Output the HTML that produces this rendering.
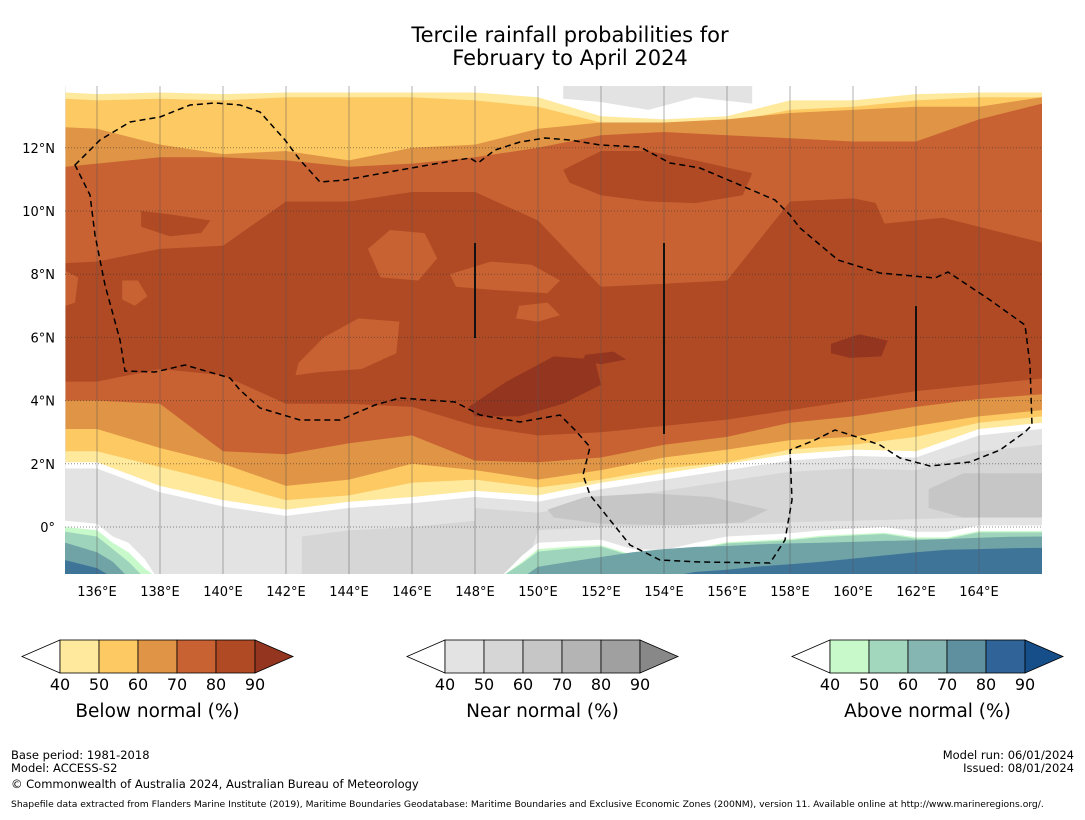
<!DOCTYPE html>
<html><head><meta charset="utf-8"><title>Tercile rainfall probabilities</title>
<style>
html,body{margin:0;padding:0;background:#fff;}
body{width:1085px;height:816px;position:relative;overflow:hidden;font-family:"DejaVu Sans","Liberation Sans",sans-serif;}
svg text{font-family:"DejaVu Sans","Liberation Sans",sans-serif;}
</style></head>
<body>
<svg id="chart" width="1085" height="816" viewBox="0 0 1085 816" xmlns="http://www.w3.org/2000/svg">
<defs><clipPath id="mapclip"><rect x="65" y="86" width="977" height="488"/></clipPath></defs>
<text x="570" y="42" text-anchor="middle" font-size="21" fill="#000">Tercile rainfall probabilities for</text>
<text x="570" y="65" text-anchor="middle" font-size="21" fill="#000">February to April 2024</text>
<g id="map" clip-path="url(#mapclip)"></g>
<g id="overlay" clip-path="url(#mapclip)"></g>
<g id="axes"></g>
<g id="legends"></g>
<text x="11" y="759" font-size="11.5">Base period: 1981-2018</text>
<text x="11" y="772" font-size="11.5">Model: ACCESS-S2</text>
<text x="11" y="788" font-size="11.5">© Commonwealth of Australia 2024, Australian Bureau of Meteorology</text>
<text x="1074" y="759" font-size="11.5" text-anchor="end">Model run: 06/01/2024</text>
<text x="1074" y="772" font-size="11.5" text-anchor="end">Issued: 08/01/2024</text>
<text x="11" y="807" font-size="9.2">Shapefile data extracted from Flanders Marine Institute (2019), Maritime Boundaries Geodatabase: Maritime Boundaries and Exclusive Economic Zones (200NM), version 11. Available online at http://www.marineregions.org/.</text>
</svg>
<script>
// ---- data (lon/lat space) ----
const LONS = [135,136,138,140,142,144,146,148,150,152,154,156,158,160,162,164,166];
const lonTicks = [136,138,140,142,144,146,148,150,152,154,156,158,160,162,164];
const latTicks = [0,2,4,6,8,10,12];
const U50 = [13.75,13.7,13.75,13.7,13.75,13.75,13.75,13.75,13.6,13.0,12.9,13.0,13.5,13.5,13.7,13.75,13.75];
const U60 = [13.55,13.5,13.55,13.5,13.6,13.6,13.6,13.5,13.3,12.8,12.7,12.8,13.2,13.3,13.5,13.6,13.6];
const U70 = [12.65,12.6,12.1,11.8,11.9,11.6,12.0,12.1,12.6,12.8,12.8,12.9,13.1,13.2,13.3,13.3,13.6];
const U80 = [11.4,11.5,11.7,11.7,11.6,11.4,11.5,11.7,12.0,12.4,12.5,12.4,12.3,12.2,12.2,12.9,13.4];
const U90 = [8.35,8.4,8.8,8.9,10.3,10.3,10.6,10.6,9.7,7.6,7.7,7.8,10.3,10.4,10.0,9.5,9.0];
const D90 = [4.6,4.6,5.0,4.8,3.9,3.9,3.8,3.2,2.9,3.0,3.2,3.4,3.7,4.0,4.3,4.5,4.7];
const D80 = [4.0,4.0,3.9,2.4,2.3,2.65,2.9,2.1,2.05,2.2,2.6,2.85,3.3,3.5,3.8,4.05,4.2];
const D70 = [3.1,3.1,2.5,2.0,1.3,1.5,2.0,1.8,1.5,1.8,2.2,2.45,2.75,2.85,3.2,3.5,3.7];
const D60 = [2.4,2.4,1.9,1.4,0.85,1.0,1.4,1.5,1.25,1.5,1.85,2.05,2.45,2.6,2.85,3.3,3.5];
const D50 = [2.05,2.05,1.3,0.85,0.55,0.8,0.95,1.15,1.0,1.4,1.7,2.0,2.3,2.45,2.4,3.1,3.3];
const D40 = [1.85,1.85,1.1,0.65,0.35,0.6,0.75,0.95,0.8,1.2,1.5,1.8,2.1,2.25,2.2,2.9,3.1];
const isl80ALon=[144.6,145.3,146.4,146.8,146.2,145.0], isl80ALat=[8.8,9.4,9.3,8.5,7.8,7.9];
const isl80BLon=[147.2,148.5,149.8,150.7,150.3,148.6,147.4], isl80BLat=[8.0,8.4,8.3,7.8,7.4,7.5,7.6];
const isl80CLon=[149.4,150.3,150.7,150.0,149.3], isl80CLat=[7.0,7.1,6.7,6.5,6.6];
const isl80DLon=[142.4,143.2,144.3,145.6,145.5,144.4,143.0,142.3], isl80DLat=[5.2,6.0,6.6,6.5,5.5,5.0,4.9,4.8];
const isl80ELon=[136.8,137.3,137.6,137.2,136.8], isl80ELat=[7.8,7.8,7.3,7.0,7.2];
const isl80FLon=[135,135.4,135.3,135], isl80FLat=[8.1,7.9,7.1,7.0];
const isl80GLon=[160.7,162.5,164.5,166,166,164.8,163.0,161.0], isl80GLat=[10.3,10.5,10.2,10.3,9.0,9.5,9.8,9.6];
const blob90ALon=[137.4,138.3,139.6,139.3,138.3,137.4], blob90ALat=[10.0,9.9,9.7,9.3,9.2,9.5];
const blob90BLon=[150.8,152.0,153.5,155.0,156.8,156.5,155.0,153.5,152.0,151.0], blob90BLat=[11.3,11.9,11.9,11.6,11.2,10.5,10.25,10.3,10.5,10.9];
const blob100ALon=[147.8,149.0,150.5,151.8,152.0,150.8,149.4,148.0], blob100ALat=[3.8,4.6,5.4,5.3,4.5,3.9,3.5,3.5];
const blob100BLon=[159.3,160.2,161.1,160.9,159.9,159.3], blob100BLat=[5.8,6.1,5.9,5.4,5.35,5.5];
const blob100CLon=[151.5,152.4,152.8,152.0,151.4], blob100CLat=[5.45,5.55,5.3,5.15,5.25];
const near60Lon=[148,150,152,154,156,158,160,162,164,166,166,164,160,156,152,150,149.5,148,146,144,142.5,142.5,144,146,148];
const near60Lat=[0.6,0.45,0.85,1.15,1.45,1.75,1.85,1.8,2.4,2.6,0.3,0.3,0.2,0.1,0.0,-0.1,-1.6,-1.6,-1.6,-1.6,-1.6,-0.3,-0.1,0.0,0.2];
const near70ALon=[150.3,151.5,153.5,155.5,157.3,156.5,154.5,152.0,150.5], near70ALat=[0.55,0.95,1.07,0.95,0.55,0.15,0.05,0.1,0.3];
const near70BLon=[162.4,163.5,166,166,163.5,162.4], near70BLat=[1.2,1.7,1.7,0.3,0.3,0.6];
const nearTopLon=[150.8,152,153.5,155,156.8,156.8,155,153.5,152,150.8], nearTopLat=[14.1,14.1,14.1,14.1,14.1,13.4,13.6,13.2,13.45,13.55];
const ALONL=[134.9,135,136,136.5,137,137.5,137.9,138.1];
const A40L=[0.2,0.2,0.1,-0.3,-0.5,-1.0,-1.6,-1.6];
const A50L=[0.0,0.0,-0.1,-0.5,-0.8,-1.3,-1.6,-1.6];
const A60L=[-0.15,-0.15,-0.3,-0.7,-1.1,-1.6,-1.6,-1.6];
const A70L=[-0.5,-0.5,-0.8,-1.1,-1.6,-1.6,-1.6,-1.6];
const A80L=[-1.05,-1.05,-1.3,-1.6,-1.6,-1.6,-1.6,-1.6];
const ALONR=[148.8,149.5,150,151,152,153,154,155,156,157,158,159,160,161,162,163,164,165,166.1];
const A40R=[-1.6,-0.9,-0.5,-0.45,-0.4,-0.7,-0.73,-0.5,-0.3,-0.25,-0.2,-0.1,-0.05,0.0,-0.15,-0.15,0.05,0.05,0.05];
const A50R=[-1.6,-1.1,-0.7,-0.62,-0.58,-0.88,-0.9,-0.68,-0.48,-0.43,-0.38,-0.28,-0.23,-0.18,-0.33,-0.33,-0.13,-0.13,-0.13];
const A60R=[-1.6,-1.15,-0.78,-0.68,-0.62,-0.92,-0.94,-0.72,-0.52,-0.47,-0.42,-0.32,-0.27,-0.22,-0.37,-0.37,-0.17,-0.17,-0.17];
const A70R=[-1.6,-1.6,-1.26,-1.1,-0.95,-0.8,-0.7,-0.63,-0.6,-0.55,-0.52,-0.5,-0.47,-0.44,-0.42,-0.38,-0.34,-0.31,-0.3];
const A80R=[-1.6,-1.6,-1.6,-1.6,-1.6,-1.6,-1.6,-1.42,-1.35,-1.25,-1.18,-1.1,-1.0,-0.9,-0.8,-0.72,-0.7,-0.67,-0.66];
const legendLabels=[40,50,60,70,80,90];
const belowColors=['#fee99d','#fdc963','#e09445','#c86232','#b04a24','#943520'];
const nearColors=['#e3e3e3','#d6d6d6','#c6c6c6','#b4b4b4','#a0a0a0','#888888'];
const aboveColors=['#c8f9cb','#a2d7be','#86b6b2','#5e909f','#306499','#154e88'];
const legendTitles=['Below normal (%)','Near normal (%)','Above normal (%)'];

const X = lon => 65.5 + (lon-135)*31.5;
const Y = lat => 527 - lat*31.6;
const NS='http://www.w3.org/2000/svg';
const map=document.getElementById('map');
function poly(parent,lons,lats,fill,name){
  const p=document.createElementNS(NS,'polygon');
  p.setAttribute('points',lons.map((l,i)=>X(l).toFixed(1)+','+Y(lats[i]).toFixed(1)).join(' '));
  p.setAttribute('fill',fill);
  
  
  parent.appendChild(p);
}
function band(lons,up,down,fill,name){
  poly(map,lons.concat(lons.slice().reverse()),up.concat(down.slice().reverse()),fill,name);
}
function topBand(lons,up,fill,name){
  band(lons,up,lons.map(()=>-1.7),fill,name);
}
poly(map,[134,167,167,134],[14.2,14.2,-1.7,-1.7],'#e3e3e3','near-normal-background');
poly(map,near60Lon,near60Lat,nearColors[1],'near-normal-50-60');
poly(map,near70ALon,near70ALat,nearColors[2],'near-normal-60-70-a');
poly(map,near70BLon,near70BLat,nearColors[2],'near-normal-60-70-b');
const TOP=LONS.map(()=>14.2);
band(LONS,TOP,D40,'#ffffff','below-normal-under-40');
band(LONS,U50,D50,belowColors[0],'below-normal-40-50');
band(LONS,U60,D60,belowColors[1],'below-normal-50-60');
band(LONS,U70,D70,belowColors[2],'below-normal-60-70');
band(LONS,U80,D80,belowColors[3],'below-normal-70-80');
band(LONS,U90,D90,belowColors[4],'below-normal-80-90');
poly(map,nearTopLon,nearTopLat,nearColors[0],'near-normal-top-patch');
[[isl80ALon,isl80ALat],[isl80BLon,isl80BLat],[isl80CLon,isl80CLat],[isl80DLon,isl80DLat],[isl80ELon,isl80ELat],[isl80FLon,isl80FLat],[isl80GLon,isl80GLat]].forEach((a,i)=>poly(map,a[0],a[1],belowColors[3],'below-70-80-patch-'+i));
poly(map,blob90ALon,blob90ALat,belowColors[4],'below-80-90-patch-a');
poly(map,blob90BLon,blob90BLat,belowColors[4],'below-80-90-patch-b');
poly(map,blob100ALon,blob100ALat,belowColors[5],'below-over-90-patch-a');
poly(map,blob100BLon,blob100BLat,belowColors[5],'below-over-90-patch-b');
poly(map,blob100CLon,blob100CLat,belowColors[5],'below-over-90-patch-c');
topBand(ALONL,A40L,'#ffffff','above-gap-left');
topBand(ALONL,A50L,aboveColors[0],'above-40-50-left');
topBand(ALONL,A60L,'#9fd4bc','above-50-60-left');
topBand(ALONL,A70L,'#6fa3a6','above-60-70-left');
topBand(ALONL,A80L,'#3f7499','above-70-80-left');
topBand(ALONR,A40R,'#ffffff','above-gap-right');
topBand(ALONR,A50R,aboveColors[0],'above-40-50-right');
topBand(ALONR,A60R,'#9fd4bc','above-50-60-right');
topBand(ALONR,A70R,'#6fa3a6','above-60-70-right');
topBand(ALONR,A80R,'#3f7499','above-70-80-right');

const ov=document.getElementById('overlay');
lonTicks.forEach(l=>{
  const ln=document.createElementNS(NS,'line');
  ln.setAttribute('x1',X(l));ln.setAttribute('x2',X(l));ln.setAttribute('y1',86);ln.setAttribute('y2',574);
  ln.setAttribute('stroke','#555');ln.setAttribute('stroke-opacity','0.45');ln.setAttribute('stroke-width','1');
  
  
  ov.appendChild(ln);
});
latTicks.forEach(l=>{
  const ln=document.createElementNS(NS,'line');
  ln.setAttribute('x1',65);ln.setAttribute('x2',1042);ln.setAttribute('y1',Y(l));ln.setAttribute('y2',Y(l));
  ln.setAttribute('stroke','#333');ln.setAttribute('stroke-opacity','0.55');ln.setAttribute('stroke-dasharray','1,2');
  
  
  ov.appendChild(ln);
});
const eez=document.createElementNS(NS,'path');
eez.setAttribute('d','M75,165 L100,140 L130,122 L160,117 L190,105 L215,103 L240,105 L260,112 L285,140 L300,160 L320,182 L345,180 L400,170 L440,163 L470,158 L478,163 L495,150 L520,142 L545,138 L570,140 L600,145 L640,147 L670,163 L700,168 L740,185 L775,200 L790,215 L800,228 L838,260 L880,273 L935,278 L948,272 L990,300 L1025,325 L1030,365 L1032,425 L1025,432 L1000,450 L970,462 L930,466 L900,458 L880,445 L860,438 L835,430 L815,440 L790,450 L792,500 L785,540 L770,563 L700,562 L660,560 L630,545 L610,520 L590,495 L583,475 L590,447 L575,430 L560,415 L520,422 L480,415 L455,402 L400,398 L375,405 L340,420 L300,420 L260,408 L240,390 L230,378 L185,365 L155,372 L125,371 L120,340 L105,285 L95,235 L90,195 Z');
eez.setAttribute('fill','none');eez.setAttribute('stroke','#000');eez.setAttribute('stroke-width','1.5');eez.setAttribute('stroke-dasharray','6,4');


ov.appendChild(eez);
[[475,243,338],[664,243,434],[916,306,401]].forEach((s,i)=>{
  const ln=document.createElementNS(NS,'line');
  ln.setAttribute('x1',s[0]);ln.setAttribute('x2',s[0]);ln.setAttribute('y1',s[1]);ln.setAttribute('y2',s[2]);
  ln.setAttribute('stroke','#111');ln.setAttribute('stroke-width','2');
  
  
  ov.appendChild(ln);
});

const ax=document.getElementById('axes');
lonTicks.forEach(l=>{
  const t=document.createElementNS(NS,'text');
  t.setAttribute('x',X(l));t.setAttribute('y',596);t.setAttribute('text-anchor','middle');t.setAttribute('font-size','13');
  t.textContent=l+'°E';
  
  
  ax.appendChild(t);
});
latTicks.forEach(l=>{
  const t=document.createElementNS(NS,'text');
  t.setAttribute('x',55);t.setAttribute('y',Y(l)+5);t.setAttribute('text-anchor','end');t.setAttribute('font-size','13');
  t.textContent=l===0?'0°':l+'°N';
  
  
  ax.appendChild(t);
});

const lg=document.getElementById('legends');
[[22,belowColors],[407,nearColors],[792,aboveColors]].forEach((cfg,k)=>{
  const x0=cfg[0], cols=cfg[1], bx=x0+38, w=39, y0=640, h=33;
  const g=document.createElementNS(NS,'g');
  
  
  lg.appendChild(g);
  const tl=document.createElementNS(NS,'polygon');
  tl.setAttribute('points',`${x0},${y0+h/2} ${bx},${y0} ${bx},${y0+h}`);
  tl.setAttribute('fill','#fff');tl.setAttribute('stroke','#000');tl.setAttribute('stroke-width','0.8');
  
  
  g.appendChild(tl);
  for(let i=0;i<5;i++){
    const r=document.createElementNS(NS,'rect');
    r.setAttribute('x',bx+i*w);r.setAttribute('y',y0);r.setAttribute('width',w);r.setAttribute('height',h);
    r.setAttribute('fill',cols[i]);r.setAttribute('stroke','#000');r.setAttribute('stroke-width','0.8');
    
    
    g.appendChild(r);
  }
  const tr=document.createElementNS(NS,'polygon');
  tr.setAttribute('points',`${bx+5*w},${y0} ${bx+5*w+38},${y0+h/2} ${bx+5*w},${y0+h}`);
  tr.setAttribute('fill',cols[5]);tr.setAttribute('stroke','#000');tr.setAttribute('stroke-width','0.8');
  
  
  g.appendChild(tr);
  legendLabels.forEach((v,i)=>{
    const t=document.createElementNS(NS,'text');
    t.setAttribute('x',bx+i*w);t.setAttribute('y',690);t.setAttribute('text-anchor','middle');t.setAttribute('font-size','16');
    t.textContent=v;
    
    
    g.appendChild(t);
  });
  const tt=document.createElementNS(NS,'text');
  tt.setAttribute('x',bx+2.5*w);tt.setAttribute('y',717);tt.setAttribute('text-anchor','middle');tt.setAttribute('font-size','18.5');
  tt.textContent=legendTitles[k];
  
  
  g.appendChild(tt);
});
</script>
</body></html>
